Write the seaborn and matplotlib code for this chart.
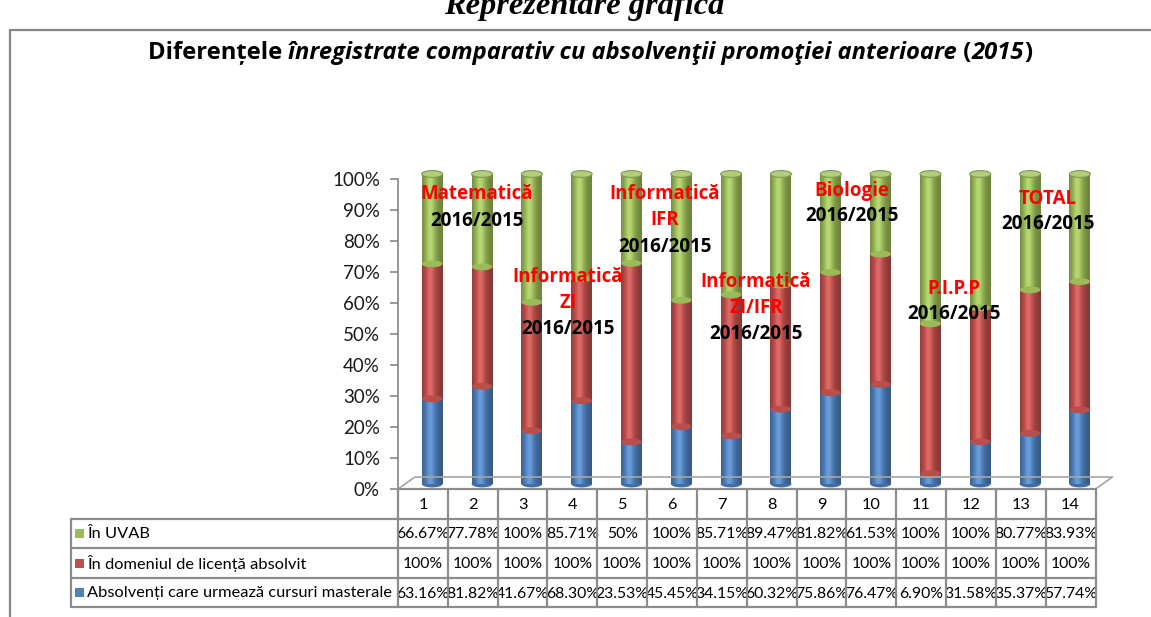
import numpy as np
import pandas as pd
import matplotlib
matplotlib.use("Agg")
import matplotlib.pyplot as plt
import seaborn as sns
from matplotlib.patches import Ellipse, Rectangle
from matplotlib.lines import Line2D
from matplotlib.colors import to_rgb

# ---------------- data ----------------
categories = [str(i) for i in range(1, 15)]
in_uvab = [66.67, 77.78, 100, 85.71, 50, 100, 85.71, 89.47, 81.82, 61.53, 100, 100, 80.77, 83.93]
in_domeniu = [100, 100, 100, 100, 100, 100, 100, 100, 100, 100, 100, 100, 100, 100]
masterale = [63.16, 81.82, 41.67, 68.30, 23.53, 45.45, 34.15, 60.32, 75.86, 76.47, 6.90, 31.58, 35.37, 57.74]
series_names = ["În UVAB", "În domeniul de licență absolvit", "Absolvenți care urmează cursuri masterale"]
yticks = [0, 0.1, 0.2, 0.3, 0.4, 0.5, 0.6, 0.7, 0.8, 0.9, 1.0]
ytick_labels = ["0%", "10%", "20%", "30%", "40%", "50%", "60%", "70%", "80%", "90%", "100%"]
ann_red = [["Matematică"], ["Informatică", "ZI"], ["Informatică", "IFR"], ["Informatică", "ZI/IFR"],
           ["Biologie"], ["P.I.P.P"], ["TOTAL"]]
ann_black = "2016/2015"
title_pieces = [("Diferențele ", "normal"),
                ("înregistrate comparativ cu absolvenţii promoţiei anterioare", "italic"),
                (" (", "normal"), ("2015", "italic"), (")", "normal")]
top_title = "Reprezentare grafică"

GREEN, RED, BLUE = "#9BBB59", "#C0504D", "#4F81BD"
GRAY = "#868686"
BOLD_FONT = ["Open Sans", "DejaVu Sans"]

sns.set_theme(style="white")
plt.rcParams["font.family"] = ["Lato", "DejaVu Sans"]

W, H = 1151, 617
fig = plt.figure(figsize=(W / 100, H / 100), dpi=100)
fig.patch.set_facecolor("white")

def fx(x):
    return x / W

def fy(y):
    return 1 - y / H

# ---------------- derived shares (100% stacked) ----------------
df = pd.DataFrame({"cat": categories, "u": in_uvab, "d": in_domeniu, "m": masterale})
tot = df["u"] + df["d"] + df["m"]
df["blue"] = df["m"] / tot
df["red"] = (df["m"] + df["d"]) / tot
df["green"] = 1.0

# ---------------- axis frame (ticks) ----------------
ax_l, ax_r, ax_b, ax_t = 398, 1095.5, 489, 179
ax_frame = fig.add_axes([fx(ax_l), fy(ax_b), fx(ax_r) - fx(ax_l), fy(ax_t) - fy(ax_b)])
ax_frame.set_xlim(-0.5, 13.5)
ax_frame.set_ylim(0, 1)
ax_frame.set_facecolor("none")
for s in ["top", "right", "bottom"]:
    ax_frame.spines[s].set_visible(False)
ax_frame.spines["left"].set_color(GRAY)
ax_frame.spines["left"].set_linewidth(1.2)
ax_frame.set_xticks([])
ax_frame.set_yticks(yticks)
ax_frame.set_yticklabels(ytick_labels, fontsize=13.5, color="#1a1a1a")
ax_frame.tick_params(axis="y", direction="out", length=6, width=1.2, color=GRAY, pad=7, left=True)

# ---------------- bars ----------------
off_x, off_y = 9.3, 5
ax_bars = fig.add_axes([fx(ax_l + off_x), fy(ax_b - off_y), fx(ax_r) - fx(ax_l), fy(ax_t) - fy(ax_b)])
bw = 0.42
layers = [("green", GREEN), ("red", RED), ("blue", BLUE)]
for i, (col, c) in enumerate(layers):
    sns.barplot(data=df, x="cat", y=col, order=categories, color=c, saturation=1,
                width=bw, ax=ax_bars, linewidth=0, zorder=1 + i)
ax_bars.set_xlabel("")
ax_bars.set_ylabel("")

def shade_img(color, n=80):
    base = np.array(to_rgb(color))
    t = np.linspace(0, 1, n)
    f = 0.70 + 0.42 * np.exp(-((t - 0.40) / 0.30) ** 2)
    rgb = base[None, :] * f[:, None]
    light = np.clip(f - 1.0, 0, None)[:, None]
    rgb = np.clip(rgb + light * (1 - base[None, :]) * 0.8, 0, 1)
    return rgb[None, :, :]

patches = list(ax_bars.patches)
n = len(categories)
for li, (col, c) in enumerate(layers):
    img = shade_img(c)
    for p in patches[li * n:(li + 1) * n]:
        p.set_zorder(1 + li)
        x0, y0, w, h = p.get_x(), p.get_y(), p.get_width(), p.get_height()
        im = ax_bars.imshow(img, extent=[x0, x0 + w, y0, y0 + h], aspect="auto",
                            interpolation="bilinear", zorder=1.5 + li)
        im.set_clip_path(p)

eh = 0.022
def darker(c, k):
    return tuple(np.clip(np.array(to_rgb(c)) * k, 0, 1))

for i in range(n):
    xc = i
    ax_bars.add_patch(Ellipse((xc, 0), bw, eh, facecolor=darker(BLUE, 0.85), edgecolor="none",
                              zorder=0.9, clip_on=False))
    ax_bars.add_patch(Ellipse((xc, df["blue"][i]), bw * 0.98, eh, facecolor=darker(RED, 0.97),
                              edgecolor="none", zorder=5, clip_on=False))
    ax_bars.add_patch(Ellipse((xc, df["red"][i]), bw * 0.98, eh, facecolor=darker(GREEN, 1.0),
                              edgecolor="none", zorder=5, clip_on=False))
    ax_bars.add_patch(Ellipse((xc, 1.0), bw, eh, facecolor="#B4CC82", edgecolor="#7E9A45",
                              linewidth=0.8, zorder=6, clip_on=False))

ax_bars.set_xlim(-0.5, 13.5)
ax_bars.set_ylim(0, 1)
ax_bars.axis("off")

# ---------------- floor ----------------
fl = [(ax_l, ax_b), (ax_l + 17, ax_b - 12), (ax_r + 17, ax_b - 12), (ax_r, ax_b)]
fig.add_artist(Line2D([fx(p[0]) for p in fl], [fy(p[1]) for p in fl], transform=fig.transFigure,
                      color="#A6A6A6", lw=1.2))

# ---------------- data table ----------------
tcol = "#8C8C8C"
col_w = (ax_r - ax_l) / n
xs = [ax_l + k * col_w for k in range(n + 1)]
ys = [489, 519, 548, 578, 607]
leg_l = 71

def hline(x0, x1, y):
    fig.add_artist(Line2D([fx(x0), fx(x1)], [fy(y), fy(y)], transform=fig.transFigure, color=tcol, lw=1.6))

def vline(x, y0, y1):
    fig.add_artist(Line2D([fx(x), fx(x)], [fy(y0), fy(y1)], transform=fig.transFigure, color=tcol, lw=1.6))

def fmt(v):
    return f"{v:.0f}%" if float(v).is_integer() else f"{v:.2f}%"

for k, cat in enumerate(categories):
    cx = (xs[k] + xs[k + 1]) / 2
    fig.text(fx(cx), fy((ys[0] + ys[1]) / 2 + 1), cat, ha="center", va="center", fontsize=11.8, color="black")

rows = [(series_names[0], GREEN, in_uvab), (series_names[1], RED, in_domeniu), (series_names[2], BLUE, masterale)]
for r, (name, c, vals) in enumerate(rows):
    yc = (ys[r + 1] + ys[r + 2]) / 2
    fig.patches.append(Rectangle((fx(75), fy(yc + 4.5)), 9 / W, 9 / H, transform=fig.transFigure,
                                 facecolor=c, edgecolor="none", figure=fig))
    fig.text(fx(87), fy(yc + 1), name, ha="left", va="center", fontsize=11.8, color="black")
    for k, v in enumerate(vals):
        cx = (xs[k] + xs[k + 1]) / 2
        fig.text(fx(cx), fy(yc + 1), fmt(v), ha="center", va="center", fontsize=11.3, color="black",
                 zorder=1)

# table lines on top of the overflowing numbers (as in the reference)
hline(ax_l, ax_r, ys[0])
for y in ys[1:]:
    hline(leg_l, ax_r, y)
for x in xs:
    vline(x, ys[0], ys[-1])
vline(leg_l, ys[1], ys[-1])

# ---------------- annotations ----------------
ann_pos = [(477, 194, 27), (568, 277, 26), (665, 194, 26.5), (756, 282, 26),
           (852, 191, 25), (954, 289, 25), (1048, 199, 25)]
for (cx, y0, dy), reds in zip(ann_pos, ann_red):
    y = y0
    for s in reds:
        fig.text(fx(cx), fy(y), s, ha="center", va="center", fontsize=13.5, fontweight="bold",
                 color="red", family=BOLD_FONT)
        y += dy
    fig.text(fx(cx), fy(y), ann_black, ha="center", va="center", fontsize=13.5, fontweight="bold",
             color="black", family=BOLD_FONT)

# ---------------- frame & titles ----------------
fig.add_artist(Line2D([fx(10), fx(10), fx(W + 5)], [fy(H + 5), fy(30), fy(30)], transform=fig.transFigure,
                      color=GRAY, lw=1.6))
fig.text(fx(584), fy(14), top_title, ha="center", va="baseline", fontsize=23.4,
         family=["Liberation Serif", "DejaVu Serif"], fontweight="bold", style="italic", color="black")

renderer = fig.canvas.get_renderer()
fs0 = 15
t0 = fig.text(fx(148), fy(59), title_pieces[0][0], ha="left", va="baseline", fontsize=fs0,
              fontweight="bold", style=title_pieces[0][1], color="black", family=BOLD_FONT)
texts = [t0]
prev = t0
for s, st in title_pieces[1:]:
    t = ax_frame.annotate(s, xy=(1, 0), xycoords=prev, xytext=(0, 0), textcoords="offset points",
                          ha="left", va="bottom", fontsize=fs0, fontweight="bold", style=st,
                          color="black", annotation_clip=False, family=BOLD_FONT)
    texts.append(t)
    prev = t

def title_width():
    fig.canvas.draw()
    bbs = [t.get_window_extent(renderer) for t in texts]
    return max(b.x1 for b in bbs) - min(b.x0 for b in bbs)

target_w = 884
w0 = title_width()
for t in texts:
    t.set_fontsize(fs0 * target_w / w0)
w1 = title_width()
t0.set_x(fx(590 - w1 / 2))

fig.savefig("out.png", dpi=100, facecolor="white")
